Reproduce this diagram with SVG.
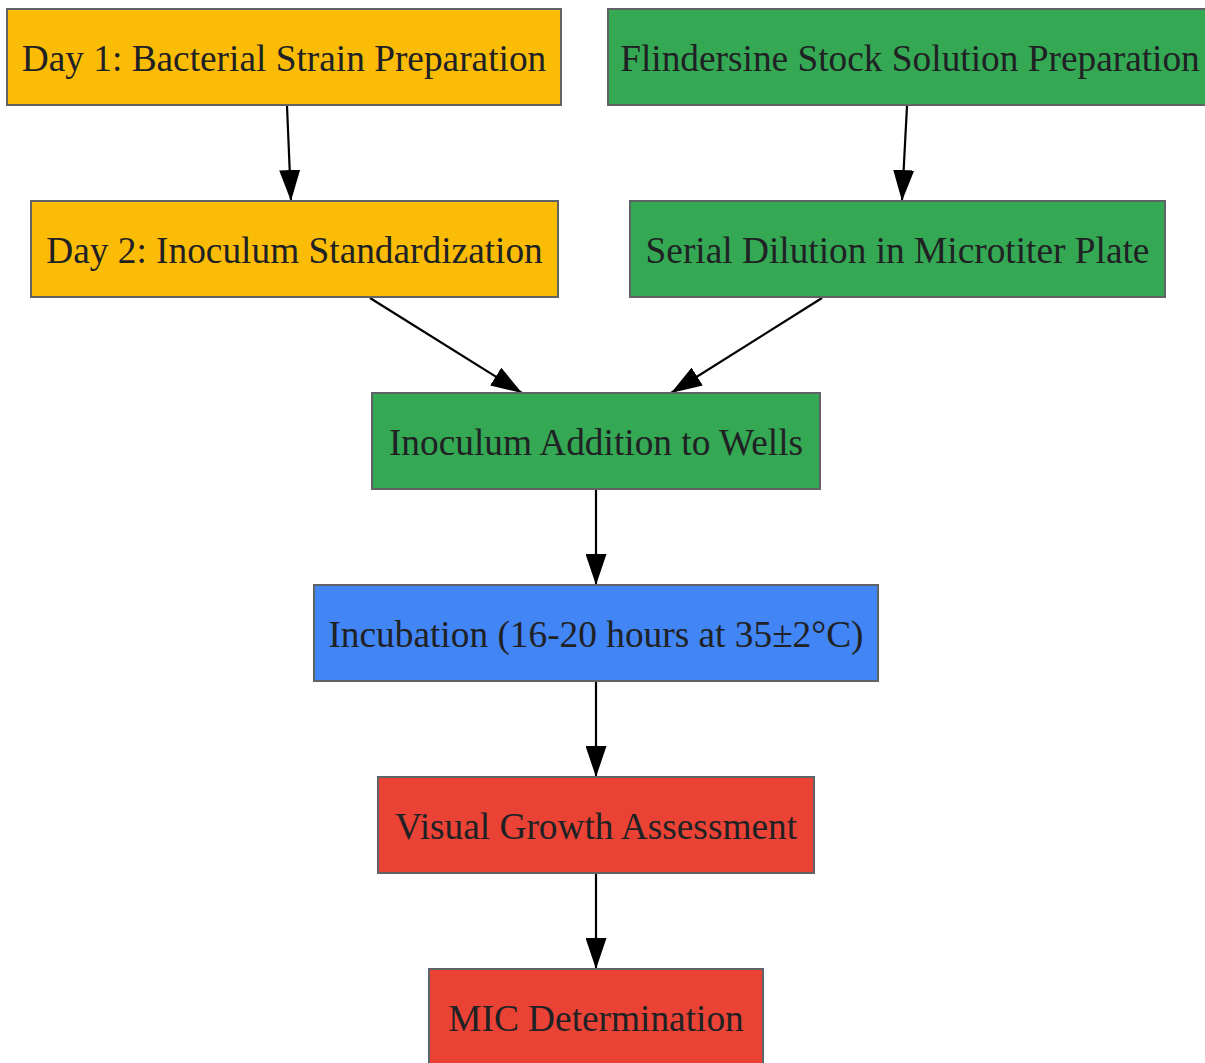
<svg xmlns="http://www.w3.org/2000/svg" width="1205" height="1063" viewBox="0 0 1205 1063">
<style>
.n rect{stroke:#5f6368;stroke-width:2}
.n text{font-family:"Liberation Serif","Times New Roman",serif;font-size:37.33px;fill:#202124;text-anchor:middle}
.y rect{fill:#FBBC05}
.g rect{fill:#34A853}
.b rect{fill:#4285F4}
.r rect{fill:#EA4335}
.e line{stroke:#000;stroke-width:2.2;marker-end:url(#ah)}
</style>
<defs>
<marker id="ah" viewBox="0 0 31 21" refX="31" refY="10.5" markerWidth="31" markerHeight="21" markerUnits="userSpaceOnUse" orient="auto">
<path d="M0,0 L31,10.5 L0,21 z" fill="#000"/>
</marker>
</defs>
<rect width="1205" height="1063" fill="#fff"/>
<g class="e">
<line x1="287" y1="106" x2="291" y2="201"/>
<line x1="907" y1="106" x2="902" y2="201"/>
<line x1="370" y1="298" x2="522" y2="393"/>
<line x1="822" y1="298" x2="671" y2="393"/>
<line x1="596" y1="490" x2="596" y2="585"/>
<line x1="596" y1="682" x2="596" y2="777"/>
<line x1="596" y1="874" x2="596" y2="969"/>
</g>
<g id="day1" class="n y"><rect x="7" y="9" width="554" height="96"/><text x="284" y="71">Day 1: Bacterial Strain Preparation</text></g>
<g id="stock" class="n g"><rect x="608" y="9" width="600" height="96"/><text x="910" y="71">Flindersine Stock Solution Preparation</text></g>
<g id="day2" class="n y"><rect x="31" y="201" width="527" height="96"/><text x="294.5" y="263">Day 2: Inoculum Standardization</text></g>
<g id="serial" class="n g"><rect x="630" y="201" width="535" height="96"/><text x="897.5" y="263">Serial Dilution in Microtiter Plate</text></g>
<g id="inoc" class="n g"><rect x="372" y="393" width="448" height="96"/><text x="596" y="455">Inoculum Addition to Wells</text></g>
<g id="incub" class="n b"><rect x="314" y="585" width="564" height="96"/><text x="596" y="647">Incubation (16-20 hours at 35±2°C)</text></g>
<g id="visual" class="n r"><rect x="378" y="777" width="436" height="96"/><text x="596" y="839">Visual Growth Assessment</text></g>
<g id="mic" class="n r"><rect x="429" y="969" width="334" height="96"/><text x="596" y="1031">MIC Determination</text></g>
</svg>
